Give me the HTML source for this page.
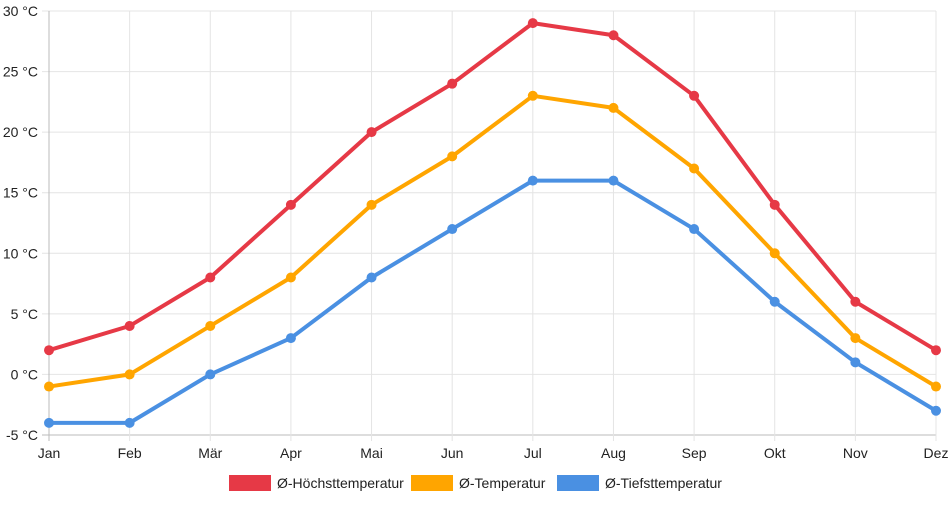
<!DOCTYPE html>
<html><head><meta charset="utf-8"><style>
html,body{margin:0;padding:0;background:#fff;}
svg text{font-family:"Liberation Sans",sans-serif;font-size:14px;fill:#222;}
</style></head><body>
<svg id="chart" width="952" height="500">
<g id="grid"></g>
<g id="yaxis"></g>
<g id="xaxis"></g>
<g id="series"></g>
<g id="legend">
  <g>
    <rect x="229" y="475" width="42" height="16" fill="#e63946"/>
    <text x="277" y="488">Ø-Höchsttemperatur</text>
  </g>
  <g>
    <rect x="411" y="475" width="42" height="16" fill="#ffa500"/>
    <text x="459" y="488">Ø-Temperatur</text>
  </g>
  <g>
    <rect x="557" y="475" width="42" height="16" fill="#4a90e2"/>
    <text x="605" y="488">Ø-Tiefsttemperatur</text>
  </g>
</g>
</svg>
<script>
const months = ["Jan","Feb","Mär","Apr","Mai","Jun","Jul","Aug","Sep","Okt","Nov","Dez"];
const highTemps = [2,4,8,14,20,24,29,28,23,14,6,2];
const meanTemps = [-1,0,4,8,14,18,23,22,17,10,3,-1];
const lowTemps = [-4,-4,0,3,8,12,16,16,12,6,1,-3];
const yTicks = [-5,0,5,10,15,20,25,30];

const NS="http://www.w3.org/2000/svg";
const X0=49,X1=936,Y0=435,Y1=11,YMIN=-5,YMAX=30;
function xs(i){return X0+(X1-X0)*i/(months.length-1);}
function ys(v){return Y0-(v-YMIN)*(Y0-Y1)/(YMAX-YMIN);}
function mk(tag,attrs,parent){const e=document.createElementNS(NS,tag);for(const k in attrs)e.setAttribute(k,attrs[k]);parent.appendChild(e);return e;}
const grid=document.getElementById('grid'),yaxis=document.getElementById('yaxis'),xaxis=document.getElementById('xaxis'),series=document.getElementById('series');
yTicks.forEach(t=>{
  const l=mk('line',{x1:X0-7,x2:X1,y1:ys(t),y2:ys(t),stroke:t===YMIN?'#bbb':'#e4e4e4','stroke-width':1},grid);
  
  
  const tx=mk('text',{x:38,y:ys(t)+5,'text-anchor':'end'},yaxis);
  tx.textContent=t+' °C';
  
  
});
months.forEach((m,i)=>{
  const l=mk('line',{x1:xs(i),x2:xs(i),y1:Y1,y2:Y0+6,stroke:i===0?'#bbb':'#e4e4e4','stroke-width':1},grid);
  
  
  const tx=mk('text',{x:xs(i),y:458,'text-anchor':'middle'},xaxis);
  tx.textContent=m;
  
  
});
[[highTemps,'#e63946','high'],[meanTemps,'#ffa500','mean'],[lowTemps,'#4a90e2','low']].forEach(([d,c,n])=>{
  const p=mk('polyline',{points:d.map((v,i)=>xs(i)+','+ys(v)).join(' '),fill:'none',stroke:c,'stroke-width':4,'stroke-linejoin':'round'},series);
  
  
  d.forEach((v,i)=>{
    const pt=mk('circle',{cx:xs(i),cy:ys(v),r:5,fill:c},series);
    
    
  });
});
</script>
</body></html>
